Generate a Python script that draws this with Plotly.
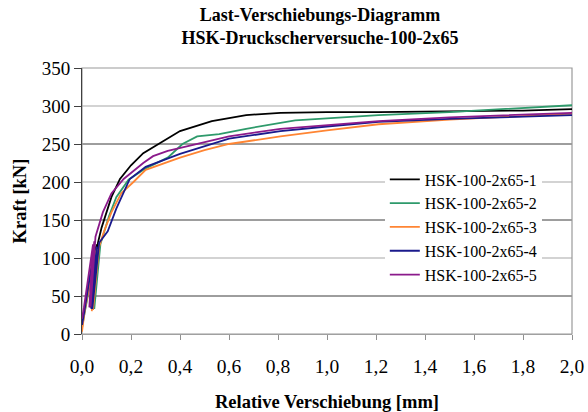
import plotly.graph_objects as go

# ---------------- data ----------------
SERIES_NAMES = ["HSK-100-2x65-1", "HSK-100-2x65-2", "HSK-100-2x65-3",
                "HSK-100-2x65-4", "HSK-100-2x65-5"]
SERIES_COLORS = ["#000000", "#2e9a6b", "#ff8533", "#1a1a8c", "#8b1a8b"]

x1 = [0, 0.01, 0.055, 0.035, 0.06, 0.04, 0.065, 0.08, 0.10, 0.12, 0.155, 0.20, 0.25,
      0.33, 0.40, 0.53, 0.67, 0.81, 1.00, 1.21, 1.50, 1.80, 2.00]
f1 = [15, 33, 115, 35, 118, 35, 120, 140, 160, 180, 204, 222, 238,
      254, 267, 280, 288, 291, 292, 292, 293, 294, 296]

x2 = [0, 0.012, 0.06, 0.045, 0.07, 0.05, 0.075, 0.09, 0.11, 0.14, 0.19, 0.26, 0.35,
      0.41, 0.47, 0.56, 0.67, 0.87, 1.21, 1.50, 1.66, 2.00]
f2 = [8, 30, 112, 32, 115, 33, 118, 135, 155, 180, 203, 218, 232,
      250, 260, 263, 270, 281, 288, 292, 295, 301]

x3 = [0, 0.01, 0.055, 0.04, 0.065, 0.045, 0.07, 0.09, 0.12, 0.16, 0.21, 0.26, 0.40,
      0.50, 0.60, 0.81, 1.00, 1.21, 1.50, 1.80, 2.00]
f3 = [3, 28, 110, 30, 112, 32, 115, 135, 160, 185, 200, 216, 232,
      242, 250, 260, 268, 276, 282, 287, 290]

x4 = [0, 0.01, 0.05, 0.038, 0.06, 0.042, 0.07, 0.105, 0.14, 0.195, 0.26, 0.40, 0.60,
      0.81, 1.00, 1.21, 1.50, 1.80, 2.00]
f4 = [12, 30, 112, 33, 115, 33, 120, 135, 165, 204, 220, 237, 257,
      267, 273, 279, 283, 286, 288]

x5 = [0, 0.008, 0.045, 0.03, 0.05, 0.035, 0.055, 0.07, 0.085, 0.12, 0.17, 0.25, 0.29,
      0.35, 0.40, 0.60, 0.81, 1.00, 1.21, 1.50, 1.80, 2.00]
f5 = [20, 35, 118, 35, 122, 36, 128, 145, 160, 185, 204, 225, 234,
      241, 245, 260, 270, 275, 280, 285, 289, 291]

SERIES_X = [x1, x2, x3, x4, x5]
SERIES_F = [f1, f2, f3, f4, f5]

X_TICKS = [0.0, 0.2, 0.4, 0.6, 0.8, 1.0, 1.2, 1.4, 1.6, 1.8, 2.0]
X_TICK_LABELS = ["0,0", "0,2", "0,4", "0,6", "0,8", "1,0", "1,2", "1,4", "1,6", "1,8", "2,0"]
Y_TICKS = [0, 50, 100, 150, 200, 250, 300, 350]
LIGHT_GRID = [100, 200, 300]
DARK_GRID = [50, 150, 250]

TITLE_LINES = ["Last-Verschiebungs-Diagramm", "HSK-Druckscherversuche-100-2x65"]
X_TITLE = "Relative Verschiebung [mm]"
Y_TITLE = "Kraft [kN]"

SERIF = "Liberation Serif"

# ---------------- figure ----------------
fig = go.Figure()
for name, color, xs, fs in zip(SERIES_NAMES, SERIES_COLORS, SERIES_X, SERIES_F):
    fig.add_trace(go.Scatter(x=xs, y=fs, mode="lines", name=name,
                             line=dict(color=color, width=1.8)))

shapes = []
for g in LIGHT_GRID:
    shapes.append(dict(type="line", xref="paper", x0=0, x1=1, yref="y", y0=g, y1=g,
                       line=dict(color="#c4c4c4", width=1.5), layer="below"))
for g in DARK_GRID:
    shapes.append(dict(type="line", xref="paper", x0=0, x1=1, yref="y", y0=g, y1=g,
                       line=dict(color="#3c3c3c", width=1), layer="below"))
# plot-area frame
shapes.append(dict(type="rect", xref="paper", yref="paper", x0=0, x1=1, y0=0, y1=1,
                   line=dict(color="#9a9a9a", width=1.2), layer="below"))

fig.update_layout(
    width=588, height=412,
    margin=dict(l=82, r=16, t=68, b=78),
    paper_bgcolor="white", plot_bgcolor="white",
    font=dict(family=SERIF, color="#000000", size=19),
    title=dict(text="<br>".join("<b>" + t + "</b>" for t in TITLE_LINES),
               x=320 / 588, xanchor="center", xref="container",
               y=1 - 21 / 412, yanchor="top", yref="container",
               font=dict(family=SERIF, size=18, color="#000000")),
    showlegend=True,
    legend=dict(x=0.618, y=0.645, xanchor="left", yanchor="top",
                bgcolor="white", borderwidth=0,
                font=dict(family=SERIF, size=16, color="#000000"),
                tracegroupgap=0),
    shapes=shapes,
)

fig.update_xaxes(range=[0, 2.0], tickvals=X_TICKS, ticktext=X_TICK_LABELS,
                 showgrid=False, zeroline=False, automargin=False,
                 showline=True, linecolor="#a0a0a0", linewidth=1.2,
                 ticks="outside", ticklen=5, tickcolor="#909090",
                 ticklabelstandoff=9,
                 tickfont=dict(family=SERIF, size=19.5),
                 title=dict(text="<b>" + X_TITLE + "</b>",
                            font=dict(family=SERIF, size=18.5), standoff=22))
fig.update_yaxes(range=[0, 350], tickvals=Y_TICKS,
                 showgrid=False, zeroline=False, automargin=False,
                 showline=True, linecolor="#404040", linewidth=1,
                 ticks="outside", ticklen=7, tickcolor="#404040",
                 tickfont=dict(family=SERIF, size=19),
                 title=dict(text="<b>" + Y_TITLE + "</b>",
                            font=dict(family=SERIF, size=18.5), standoff=10))

fig.write_html("out.html")
